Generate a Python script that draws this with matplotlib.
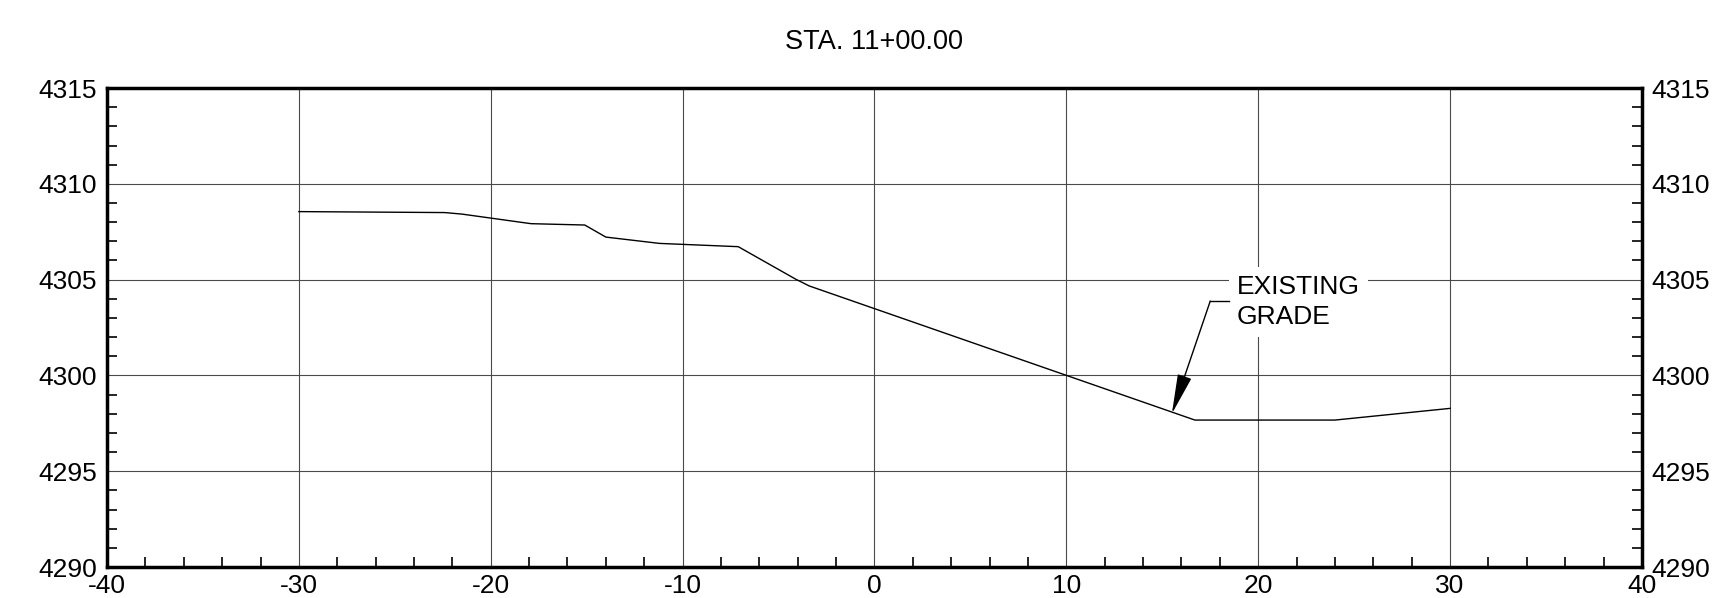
import matplotlib.pyplot as plt
from matplotlib.ticker import MultipleLocator

plt.rcParams['font.family'] = ['Liberation Sans', 'DejaVu Sans']

# Existing grade profile (offset, elevation)
offset = [-30, -22.4, -21.5, -17.9, -15.1, -14.0, -11.2, -7.1, -4.1, -3.4, 16.7, 24.0, 30]
elev = [4308.55, 4308.5, 4308.42, 4307.92, 4307.85, 4307.22, 4306.89, 4306.72,
        4305.02, 4304.67, 4297.67, 4297.67, 4298.28]

title = "STA. 11+00.00"
label = "EXISTING\nGRADE"
arrow_tip = (15.5, 4298.0)
leader_bend = (17.5, 4303.88)
leader_end = (18.5, 4303.88)
label_pos = (18.9, 4305.25)

fig = plt.figure(figsize=(17.26, 5.98), dpi=100)
ax = fig.add_axes([0.062, 0.0518, 0.8893, 0.801])

# Grid
ax.set_xlim(-40, 40)
ax.set_ylim(4290, 4315)
ax.xaxis.set_major_locator(MultipleLocator(10))
ax.yaxis.set_major_locator(MultipleLocator(5))
ax.xaxis.set_minor_locator(MultipleLocator(2))
ax.yaxis.set_minor_locator(MultipleLocator(1))
ax.grid(which='major', color='#4a4a4a', linewidth=0.8, zorder=1)

# Profile line
ax.plot(offset, elev, color='black', linewidth=1.0, zorder=3)

# Label and leader
ax.text(label_pos[0], label_pos[1], label, ha='left', va='top', fontsize=19,
        linespacing=1.32, zorder=4,
        bbox=dict(boxstyle='square,pad=0.3', facecolor='white', edgecolor='none'))
ax.plot([leader_end[0], leader_bend[0]], [leader_end[1], leader_bend[1]],
        color='black', linewidth=1.0, zorder=5)
ax.annotate('', xy=arrow_tip, xytext=leader_bend, zorder=5,
            arrowprops=dict(arrowstyle='-|>,head_length=2.5,head_width=0.45',
                            mutation_scale=10, color='black', linewidth=1.0,
                            shrinkA=0, shrinkB=0))

# Axes styling
for s in ax.spines.values():
    s.set_linewidth(2.5)
ax.tick_params(which='major', length=0, labelsize=19, pad=5)
ax.tick_params(axis='y', which='major', pad=7)
ax.tick_params(which='minor', direction='in', length=7, width=1.2)
ax.tick_params(axis='y', which='both', left=True, right=True, labelleft=True, labelright=True)
ax.tick_params(axis='x', which='both', top=False, bottom=True)
ax.set_xticklabels([f"{int(v)}" for v in ax.get_xticks()])

ax.set_title(title, fontsize=19.5, pad=28)

plt.savefig("out.png", dpi=100)
